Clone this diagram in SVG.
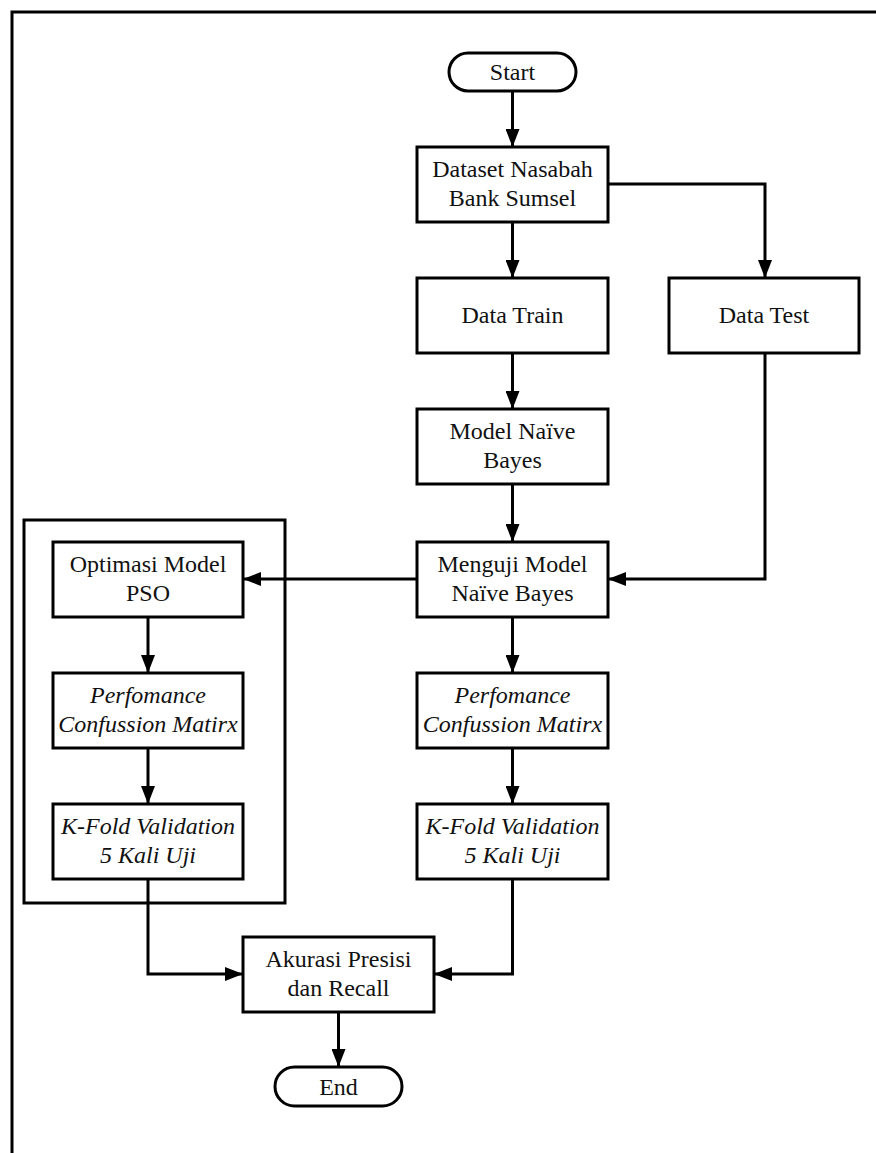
<svg xmlns="http://www.w3.org/2000/svg" width="876" height="1153" viewBox="0 0 876 1153">
<defs>
<marker id="arr" markerUnits="userSpaceOnUse" markerWidth="18" markerHeight="14" refX="18" refY="7" orient="auto">
<path d="M0,0 L18,7 L0,14 z" fill="#000"/>
</marker>
<style>
.box{fill:#fff;stroke:#000;stroke-width:3}
.frame{fill:none;stroke:#000;stroke-width:3}
text{font-family:'Liberation Serif','Times New Roman','DejaVu Serif',serif;font-size:24px;fill:#111;text-anchor:middle}
.i{font-style:italic}
.c{fill:none;stroke:#000;stroke-width:3;marker-end:url(#arr)}
</style>
</defs>
<rect width="876" height="1153" fill="#fff"/>
<path class="frame" d="M12,1153 V12 H876"/>
<rect id="group-pso" class="frame" x="24" y="520" width="261" height="383"/>
<g id="connectors">
<path class="c" d="M512.5,91 V147"/>
<path class="c" d="M512.5,222 V278"/>
<path class="c" d="M608,184 H765 V278"/>
<path class="c" d="M512.5,353 V409"/>
<path class="c" d="M512.5,484 V542"/>
<path class="c" d="M765,353 V579 H608"/>
<path class="c" d="M417,579 H243"/>
<path class="c" d="M148,617 V673"/>
<path class="c" d="M148,748 V804"/>
<path class="c" d="M512.5,617 V673"/>
<path class="c" d="M512.5,748 V804"/>
<path class="c" d="M148,879 V974 H243"/>
<path class="c" d="M512.5,879 V974 H434"/>
<path class="c" d="M338.5,1012 V1067"/>
</g>
<g id="start">
<rect class="box" x="449" y="53" width="127" height="38" rx="19"/>
<text font-family="Liberation Serif" x="512.5" y="80">Start</text>
</g>
<g id="dataset">
<rect class="box" x="417" y="147" width="191" height="75"/>
<text font-family="Liberation Serif" x="512.5" y="177">Dataset Nasabah</text>
<text font-family="Liberation Serif" x="512.5" y="206">Bank Sumsel</text>
</g>
<g id="data-train">
<rect class="box" x="417" y="278" width="191" height="75"/>
<text font-family="Liberation Serif" x="512.5" y="323">Data Train</text>
</g>
<g id="data-test">
<rect class="box" x="669" y="278" width="190" height="75"/>
<text font-family="Liberation Serif" x="764" y="323">Data Test</text>
</g>
<g id="model-nb">
<rect class="box" x="417" y="409" width="191" height="75"/>
<text font-family="Liberation Serif" x="512.5" y="439">Model Naïve</text>
<text font-family="Liberation Serif" x="512.5" y="468">Bayes</text>
</g>
<g id="menguji">
<rect class="box" x="417" y="542" width="191" height="75"/>
<text font-family="Liberation Serif" x="512.5" y="572">Menguji Model</text>
<text font-family="Liberation Serif" x="512.5" y="601">Naïve Bayes</text>
</g>
<g id="optimasi">
<rect class="box" x="53" y="542" width="190" height="75"/>
<text font-family="Liberation Serif" x="148" y="572">Optimasi Model</text>
<text font-family="Liberation Serif" x="148" y="601">PSO</text>
</g>
<g id="perf-left">
<rect class="box" x="53" y="673" width="190" height="75"/>
<text class="i" font-family="Liberation Serif" x="148" y="703">Perfomance</text>
<text class="i" font-family="Liberation Serif" x="148" y="732">Confussion Matirx</text>
</g>
<g id="perf-right">
<rect class="box" x="417" y="673" width="191" height="75"/>
<text class="i" font-family="Liberation Serif" x="512.5" y="703">Perfomance</text>
<text class="i" font-family="Liberation Serif" x="512.5" y="732">Confussion Matirx</text>
</g>
<g id="kfold-left">
<rect class="box" x="53" y="804" width="190" height="75"/>
<text class="i" font-family="Liberation Serif" x="148" y="834">K-Fold Validation</text>
<text class="i" font-family="Liberation Serif" x="148" y="863">5 Kali Uji</text>
</g>
<g id="kfold-right">
<rect class="box" x="417" y="804" width="191" height="75"/>
<text class="i" font-family="Liberation Serif" x="512.5" y="834">K-Fold Validation</text>
<text class="i" font-family="Liberation Serif" x="512.5" y="863">5 Kali Uji</text>
</g>
<g id="akurasi">
<rect class="box" x="243" y="937" width="191" height="75"/>
<text font-family="Liberation Serif" x="338.5" y="967">Akurasi Presisi</text>
<text font-family="Liberation Serif" x="338.5" y="996">dan Recall</text>
</g>
<g id="end">
<rect class="box" x="275" y="1067" width="127" height="39" rx="19.5"/>
<text font-family="Liberation Serif" x="338.5" y="1095">End</text>
</g>
</svg>
